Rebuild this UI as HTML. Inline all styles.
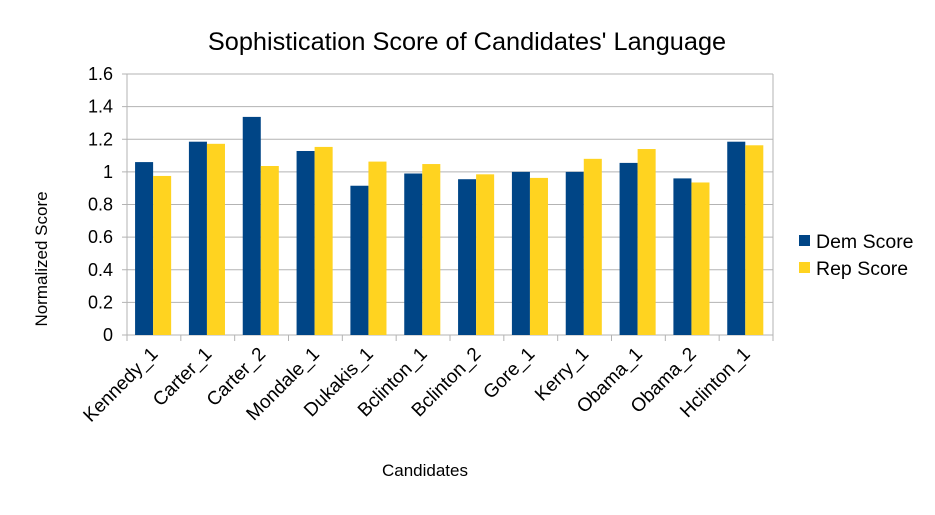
<!DOCTYPE html>
<html><head><meta charset="utf-8"><style>
body{margin:0;background:#fff;font-family:"Liberation Sans",sans-serif}
</style></head><body>
<svg id="c" width="935" height="510" xmlns="http://www.w3.org/2000/svg" font-family="Liberation Sans, sans-serif">
<rect width="935" height="510" fill="#fff"/>
<text x="467" y="50" text-anchor="middle" font-size="25.3">Sophistication Score of Candidates' Language</text>
<g id="grid"></g><g id="bars"></g><g id="axes"></g>
<text transform="translate(47,259) rotate(-90)" text-anchor="middle" font-size="17">Normalized Score</text>
<text x="425" y="476" text-anchor="middle" font-size="17">Candidates</text>
<g>
<rect x="799" y="235" width="11" height="11" fill="#004586"/>
<text x="816" y="248" font-size="19.5">Dem Score</text>
<rect x="799" y="262" width="11" height="11" fill="#ffd320"/>
<text x="816" y="275" font-size="19.5">Rep Score</text>
</g>
</svg>
<script>
const categories=["Kennedy_1","Carter_1","Carter_2","Mondale_1","Dukakis_1","Bclinton_1","Bclinton_2","Gore_1","Kerry_1","Obama_1","Obama_2","Hclinton_1"];
const demScores=[1.06,1.185,1.337,1.128,0.915,0.99,0.955,1.0,1.0,1.055,0.96,1.185];
const repScores=[0.975,1.172,1.036,1.153,1.063,1.048,0.985,0.963,1.08,1.14,0.935,1.163];
const yTicks=[0,0.2,0.4,0.6,0.8,1,1.2,1.4,1.6];
const yTickLabels=["0","0.2","0.4","0.6","0.8","1","1.2","1.4","1.6"];
const NS="http://www.w3.org/2000/svg";
const L=127,R=773,T=74,B=335;
const y=v=>B-(v/1.6)*(B-T);
const gw=(R-L)/categories.length;
const x=i=>L+i*gw;
function mk(t,a,p){const e=document.createElementNS(NS,t);for(const k in a)e.setAttribute(k,a[k]);p.appendChild(e);return e;}
const grid=document.getElementById('grid'),bars=document.getElementById('bars'),axes=document.getElementById('axes');
yTicks.forEach((v,i)=>{
 const l=mk('line',{x1:L-5,x2:R,y1:y(v),y2:y(v),stroke:'#b3b3b3','stroke-width':1},grid);
 
 
 const t=mk('text',{x:113,y:y(v)+6,'text-anchor':'end','font-size':18},axes);
 t.textContent=yTickLabels[i];
 
 
});
mk('line',{x1:L,x2:L,y1:T,y2:B,stroke:'#b3b3b3'},axes);
mk('line',{x1:R,x2:R,y1:T,y2:B,stroke:'#b3b3b3'},axes);
categories.forEach((c,i)=>{
 const bw=gw*0.335,off=gw*0.15;
 const d=mk('rect',{x:x(i)+off,y:y(demScores[i]),width:bw,height:B-y(demScores[i]),fill:'#004586'},bars);
 
 
 const r=mk('rect',{x:x(i)+off+bw,y:y(repScores[i]),width:bw,height:B-y(repScores[i]),fill:'#ffd320'},bars);
 
 
 mk('line',{x1:x(i),x2:x(i),y1:B,y2:B+6,stroke:'#b3b3b3'},axes);
 const cx=x(i)+gw/2;
 const t=mk('text',{x:cx+5,y:B+20,'text-anchor':'end','font-size':19,transform:`rotate(-45 ${cx+5} ${B+20})`},axes);
 t.textContent=c;
 
 
});
mk('line',{x1:R,x2:R,y1:B,y2:B+6,stroke:'#b3b3b3'},axes);
</script>
</body></html>
